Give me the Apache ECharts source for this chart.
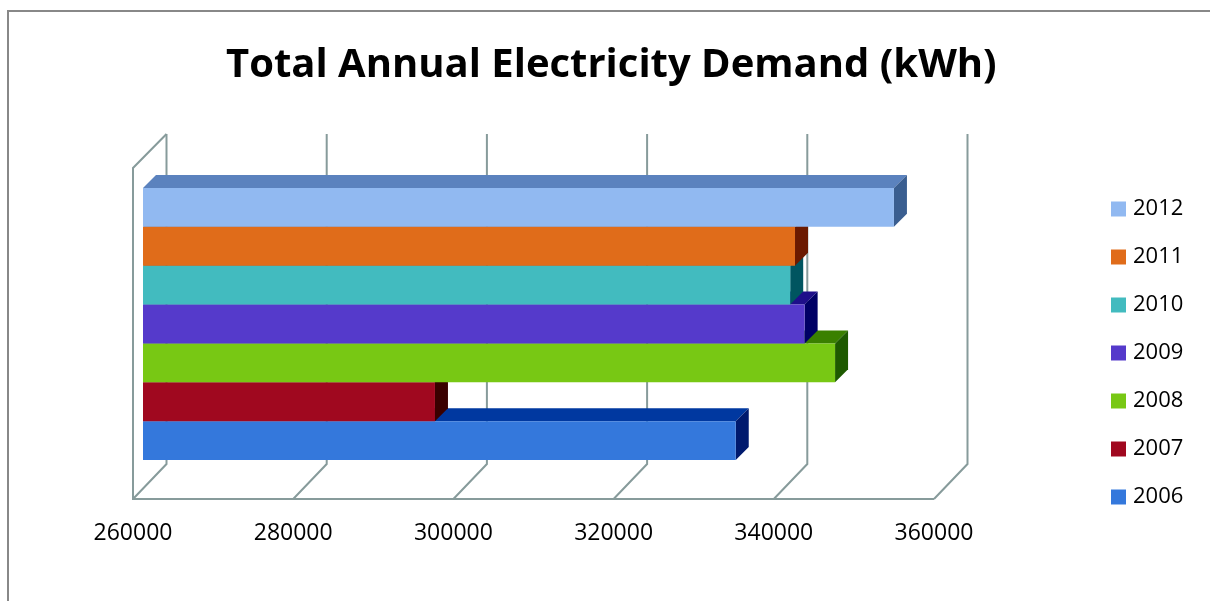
<!DOCTYPE html>
<html>
<head>
<meta charset="utf-8">
<title>Total Annual Electricity Demand</title>
<script src="https://cdn.jsdelivr.net/npm/echarts@6/dist/echarts.min.js"></script>
<style>
    html, body {
        margin: 0;
        padding: 0;
        background: #fff;
    }
    #chart {
        width: 1210px;
        height: 601px;
    }
</style>
</head>
<body>
<div id="chart"></div>
<script>
// data
const years = ['2006', '2007', '2008', '2009', '2010', '2011', '2012'];
const demand = [334000, 296450, 346400, 342600, 340800, 341400, 353750];
const ticks = [260000, 280000, 300000, 320000, 340000, 360000];

// face colours per year: front, top, side
const frontColors = ['#3478dc', '#a0081f', '#78c814', '#553acb', '#42bbbf', '#e06c1a', '#91b9f1'];
const topColors = ['#0038a0', '#5a0010', '#3a8000', '#1e0f8a', '#00707a', '#8a2e00', '#5b82be'];
const sideColors = ['#001a6e', '#3a0000', '#1e5a00', '#000066', '#005560', '#6b1a00', '#3a5e90'];

const depth = 13;
const frameColor = '#879b9b';

const chart = echarts.init(document.getElementById('chart'));

function renderBar(params, api) {
    const i = params.seriesIndex - 1;
    const idx = api.value(1);
    const start = api.coord([ticks[0], idx]);
    const end = api.coord([api.value(0), idx]);
    const h = api.size([0, 1])[1];
    const x0 = start[0];
    const x1 = end[0];
    const yt = end[1] - h / 2;
    const yb = end[1] + h / 2;
    return {
        type: 'group',
        children: [
            {
                type: 'polygon',
                shape: { points: [[x0, yt], [x0 + depth, yt - depth], [x1 + depth, yt - depth], [x1, yt]] },
                style: { fill: topColors[i] }
            },
            {
                type: 'polygon',
                shape: { points: [[x1, yt], [x1 + depth, yt - depth], [x1 + depth, yb - depth], [x1, yb]] },
                style: { fill: sideColors[i] }
            },
            {
                type: 'rect',
                shape: { x: x0, y: yt, width: x1 - x0, height: yb - yt },
                style: { fill: frontColors[i] }
            }
        ]
    };
}

// back wall lines, floor diagonals and side walls of the 3d box
function renderFrame(params, api) {
    const rect = params.coordSys;
    const p = api.coord([api.value(0), 0]);
    const xb = p[0] + 23.5;
    const xf = p[0] - 10;
    const backTop = rect.y - 54;
    const backBottom = rect.y + rect.height + 4;
    const front = rect.y + rect.height + 39;
    const style = { stroke: frameColor, lineWidth: 2, fill: null };
    const children = [
        {
            type: 'polyline',
            shape: { points: [[xb, backTop], [xb, backBottom], [xf, front]] },
            style
        }
    ];
    if (params.dataIndex === 0) {
        const last = api.coord([ticks[ticks.length - 1], 0])[0] - 10;
        children.push({
            type: 'polyline',
            shape: { points: [[xb, backTop], [xf, backTop + 34], [xf, front], [last, front]] },
            style
        });
    }
    return { type: 'group', children };
}

const series = [
    {
        type: 'custom',
        name: 'frame',
        renderItem: renderFrame,
        data: ticks.map(t => [t]),
        encode: { x: 0 },
        silent: true,
        z: 1
    }
];
years.forEach((y, i) => {
    series.push({
        type: 'custom',
        name: y,
        renderItem: renderBar,
        itemStyle: { color: frontColors[i] },
        data: [[demand[i], i]],
        encode: { x: 0, y: 1 },
        z: 2 + i
    });
});

const option = {
    animation: false,
    title: {
        text: 'Total Annual Electricity Demand (kWh)',
        left: 221,
        top: 41,
        textStyle: {
            fontFamily: 'Open Sans',
            fontSize: 40,
            fontWeight: 'bold',
            color: '#000',
            lineHeight: 40
        }
    },
    legend: {
        data: years.slice().reverse(),
        orient: 'vertical',
        left: 1111,
        top: 197,
        padding: 0,
        icon: 'rect',
        itemWidth: 15,
        itemHeight: 15,
        itemGap: 24,
        textStyle: {
            fontFamily: 'Open Sans',
            fontSize: 22,
            lineHeight: 24,
            color: '#000',
            padding: [0, 0, 0, 2]
        }
    },
    grid: {
        left: 143,
        top: 188,
        width: 801,
        height: 272
    },
    xAxis: {
        type: 'value',
        min: 260000,
        max: 360000,
        interval: 20000,
        axisLine: { show: false },
        axisTick: { show: false },
        splitLine: { show: false },
        axisLabel: {
            margin: 61,
            fontFamily: 'Open Sans',
            fontSize: 23,
            lineHeight: 24,
            color: '#000',
            padding: [0, 20, 0, 0],
            formatter: v => String(v)
        }
    },
    yAxis: {
        type: 'category',
        data: years,
        show: false
    },
    graphic: [
        {
            type: 'polyline',
            shape: { points: [[8, 620], [8, 11], [1230, 11]] },
            style: { stroke: '#888', lineWidth: 2, fill: null },
            silent: true
        }
    ],
    series
};

chart.setOption(option);
</script>
</body>
</html>
